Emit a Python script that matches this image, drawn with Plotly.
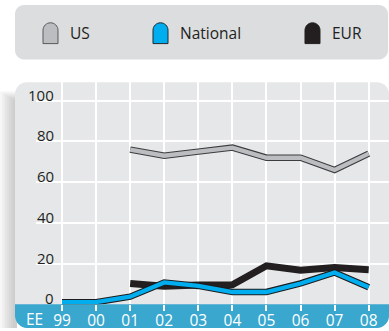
import plotly.graph_objects as go

# ---- data ----
years = ["99", "00", "01", "02", "03", "04", "05", "06", "07", "08"]
us = [None, None, 76, 73, 75, 77, 72, 72, 66, 74]
national = [1, 1, 3.7, 10.7, 9, 6, 6, 10.2, 15.6, 8.3]
eur = [None, None, 10.2, 8.8, 9.5, 9.6, 18.9, 16.7, 18, 17]
y_ticks = [0, 20, 40, 60, 80, 100]
legend_names = ["US", "National", "EUR"]

W, H = 389, 331
FONT = "Open Sans"
TXT = "#231f20"
PANEL = "#e6e7e8"
BAND = "#3aa7cf"
LEGEND_BG = "#dcdddf"


def X(px):
    return px / W


def Y(py):
    return 1 - py / H


def path(points_px):
    """Build a paper-coordinate SVG path from pixel commands."""
    out = []
    for cmd, *coords in points_px:
        pts = []
        for i in range(0, len(coords), 2):
            pts.append(f"{X(coords[i]):.5f},{Y(coords[i + 1]):.5f}")
        out.append(cmd + " ".join(pts))
    return " ".join(out)


def round_rect(x0, y0, x1, y1, r, top=True, bottom=True):
    k = 0.54 * r
    cmds = []
    if top:
        cmds += [("M", x0, y0 + r), ("C", x0, y0 + r - k, x0 + r - k, y0, x0 + r, y0),
                 ("L", x1 - r, y0), ("C", x1 - r + k, y0, x1, y0 + r - k, x1, y0 + r)]
    else:
        cmds += [("M", x0, y0), ("L", x1, y0)]
    if bottom:
        cmds += [("L", x1, y1 - r), ("C", x1, y1 - r + k, x1 - r + k, y1, x1 - r, y1),
                 ("L", x0 + r, y1), ("C", x0 + r - k, y1, x0, y1 - r + k, x0, y1 - r)]
    else:
        cmds += [("L", x1, y1), ("L", x0, y1)]
    cmds.append(("Z",))
    return path(cmds)


def arch(x0, y0, x1, y1):
    r = (x1 - x0) / 2
    cmds = [("M", x0, y1), ("L", x0, y0 + r),
            ("C", x0, y0 + r * 0.45, x0 + r * 0.45, y0, x0 + r, y0),
            ("C", x1 - r * 0.45, y0, x1, y0 + r * 0.45, x1, y0 + r),
            ("L", x1, y1), ("Z",)]
    return path(cmds)


shapes = []

# soft shadow on the left of the chart panel
for i in range(7):
    shapes.append(dict(type="rect", xref="paper", yref="paper",
                       x0=X(i * 2.2), x1=X(17), y0=Y(331), y1=Y(92 + i * 1.5),
                       fillcolor="#6d6e70", opacity=0.055, line_width=0, layer="below"))

# chart panel and the blue category band
shapes.append(dict(type="path", xref="paper", yref="paper",
                   path=round_rect(15, 83, 389, 331, 12), fillcolor=PANEL,
                   line_width=0, layer="below"))
shapes.append(dict(type="path", xref="paper", yref="paper",
                   path=round_rect(15, 307, 389, 331, 12, top=False), fillcolor=BAND,
                   line_width=0, layer="below"))

# legend box
shapes.append(dict(type="path", xref="paper", yref="paper",
                   path=round_rect(15, 5, 388, 60, 9), fillcolor=LEGEND_BG,
                   line_width=0, layer="below"))

legend_style = [
    dict(fill="#bcbdc0", line="#58595b", icon_x=43, text_x=68),
    dict(fill="#00aeef", line="#1f2a30", icon_x=153, text_x=178),
    dict(fill="#231f20", line="#231f20", icon_x=305, text_x=330),
]

annotations = []
for name, st in zip(legend_names, legend_style):
    shapes.append(dict(type="path", xref="paper", yref="paper",
                       path=arch(st["icon_x"], 23, st["icon_x"] + 15, 44),
                       fillcolor=st["fill"], line=dict(color=st["line"], width=1)))
    annotations.append(dict(text=name, xref="paper", yref="paper",
                            x=X(st["text_x"]), y=Y(33.5), xanchor="left", yanchor="middle",
                            showarrow=False, font=dict(family=FONT, size=15.5, color=TXT)))

# y-axis labels sit above their gridlines
for v in y_ticks:
    annotations.append(dict(text=str(v), xref="paper", yref="y", x=X(56), y=v,
                            xanchor="right", yanchor="bottom", yshift=-6, showarrow=False,
                            font=dict(family=FONT, size=15, color=TXT)))

# series label in the band
annotations.append(dict(text="EE", xref="paper", yref="paper", x=X(34), y=Y(321.5),
                        xanchor="center", yanchor="middle", showarrow=False,
                        font=dict(family=FONT, size=15.5, color="white")))

fig = go.Figure()


def ribbon(values, outer, inner, w_out, w_in):
    fig.add_trace(go.Scatter(x=years, y=values, mode="lines",
                             line=dict(color=outer, width=w_out), showlegend=False,
                             hoverinfo="skip"))
    if inner:
        fig.add_trace(go.Scatter(x=years, y=values, mode="lines",
                                 line=dict(color=inner, width=w_in), showlegend=False))


ribbon(us, "#3c3c3e", "#bcbdc0", 6.5, 4.3)
ribbon(eur, "#231f20", None, 7, 0)
ribbon(national, "#1c1c1e", "#00aeef", 6.5, 4.3)

s = (368.7 - 62) / 9
fig.update_layout(
    width=W, height=H,
    margin=dict(l=0, r=0, t=0, b=0, pad=0),
    paper_bgcolor="white", plot_bgcolor="rgba(0,0,0,0)",
    shapes=shapes, annotations=annotations,
    xaxis=dict(
        type="category", domain=[X(36), 1],
        range=[-(62 - 36) / s, 9 + (389 - 368.7) / s],
        showgrid=True, gridcolor="white", gridwidth=1.5,
        ticks="outside", ticklen=6, tickwidth=1.5, tickcolor="white",
        ticklabelstandoff=-4,
        tickfont=dict(family=FONT, size=15.5, color="white"),
        showline=False, zeroline=False, fixedrange=True,
    ),
    yaxis=dict(
        domain=[Y(307), Y(83)],
        range=[0, (307 - 83) / ((307 - 101.7) / 100)],
        tickvals=y_ticks[1:], showticklabels=False,
        showgrid=True, gridcolor="white", gridwidth=1.8,
        showline=False, zeroline=False, ticks="", fixedrange=True,
    ),
)

fig.write_html("out.html")
